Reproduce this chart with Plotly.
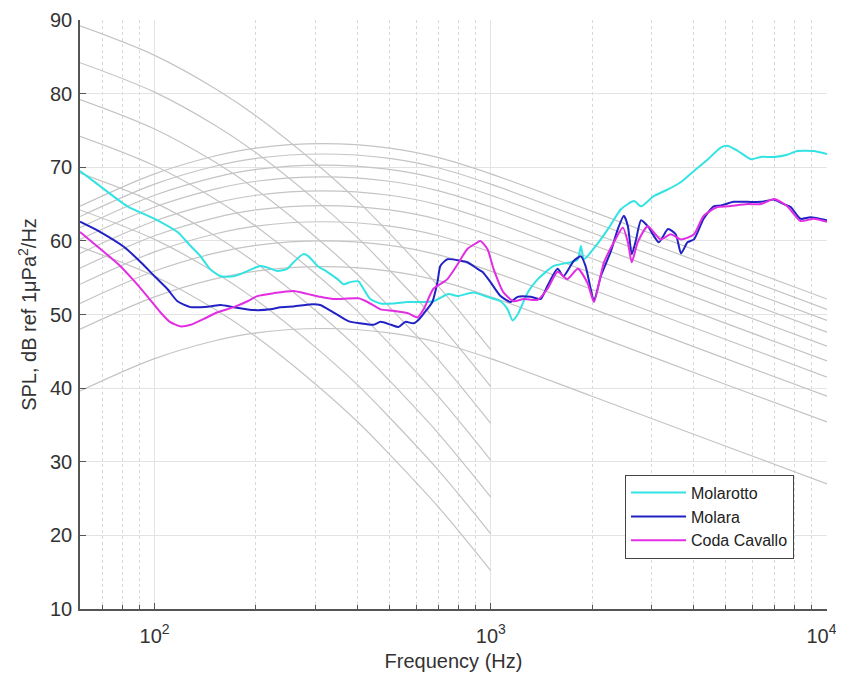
import plotly.graph_objects as go

molarotto_f = [60, 69, 83, 100, 117, 128, 137, 146, 157, 172, 189, 206, 216, 232, 248, 259, 277, 287,
               305, 326, 350, 365, 382, 404, 418, 438, 470, 513, 565, 618, 675, 748, 796, 888, 977,
               1069, 1122, 1161, 1202, 1288, 1380, 1540, 1730, 1815, 1854, 1893, 2027, 2231, 2439,
               2667, 2798, 3058, 3365, 3681, 4022, 4428, 4841, 5079, 5437, 5945, 6365, 6962, 7619,
               8166, 9120, 10000]
molarotto_db = [69.5, 67.4, 64.7, 63.0, 61.2, 59.3, 57.9, 56.2, 55.2, 55.2, 55.9, 56.6, 56.4, 55.9, 56.2,
                57.1, 58.2, 57.9, 56.6, 55.8, 54.8, 54.1, 54.4, 54.5, 53.5, 52.1, 51.5, 51.5, 51.7, 51.7,
                51.8, 52.8, 52.5, 53.0, 52.4, 51.8, 50.7, 49.2, 50.0, 53.0, 54.8, 56.6, 57.1, 57.5, 59.3,
                57.5, 59.0, 61.6, 64.3, 65.4, 64.7, 66.1, 67.0, 68.0, 69.5, 71.1, 72.7, 72.9, 72.2, 71.1,
                71.4, 71.4, 71.7, 72.2, 72.2, 71.8]

molara_f = [60, 69, 81, 91, 100, 109, 117, 128, 146, 157, 172, 197, 221, 237, 259, 296, 311, 340, 377,
            409, 448, 470, 505, 531, 557, 589, 610, 631, 670, 694, 708, 743, 813, 852, 913, 944, 998,
            1069, 1145, 1202, 1313, 1406, 1475, 1580, 1645, 1766, 1854, 1913, 1982, 2027, 2124, 2276,
            2387, 2488, 2557, 2626, 2699, 2798, 2930, 3162, 3365, 3548, 3681, 3846, 4022, 4295, 4601,
            4841, 5277, 5802, 6365, 6962, 7431, 7798, 8337, 8933, 10000]
molara_db = [62.6, 61.2, 59.2, 57.1, 55.2, 53.5, 51.8, 51.0, 51.1, 51.3, 51.0, 50.6, 50.7, 51.0, 51.1,
             51.4, 51.3, 50.3, 49.1, 48.8, 48.6, 49.0, 48.6, 48.3, 49.0, 48.8, 49.3, 50.1, 51.7, 54.4,
             56.6, 57.5, 57.3, 57.1, 56.2, 55.8, 54.4, 52.5, 51.7, 52.4, 52.4, 52.1, 53.9, 56.2, 55.2,
             57.3, 57.9, 56.6, 53.5, 51.8, 55.2, 58.6, 61.6, 63.4, 62.0, 58.2, 60.0, 62.8, 62.0, 59.8,
             61.6, 60.9, 58.3, 59.8, 60.2, 63.0, 64.7, 64.8, 65.3, 65.3, 65.3, 65.6, 65.0, 64.6, 63.0,
             63.2, 62.8]

coda_f = [60, 69, 79, 86, 95, 104, 111, 119, 128, 140, 154, 172, 189, 202, 226, 259, 285, 311, 340, 404,
          430, 470, 513, 565, 605, 631, 675, 723, 743, 796, 852, 913, 930, 977, 1019, 1091, 1169, 1253,
          1380, 1475, 1580, 1690, 1815, 1942, 2027, 2168, 2323, 2471, 2557, 2626, 2735, 2930, 3199, 3428,
          3681, 4022, 4295, 4720, 5079, 5802, 6365, 6962, 7619, 8337, 9120, 10000]
coda_db = [61.2, 58.9, 56.6, 54.8, 52.5, 50.3, 49.0, 48.4, 48.6, 49.4, 50.3, 51.0, 51.8, 52.5, 52.9, 53.2,
           52.8, 52.4, 52.1, 52.2, 51.7, 50.7, 50.5, 50.2, 49.6, 50.7, 53.5, 54.4, 54.8, 56.8, 58.9, 59.8,
           60.0, 58.9, 56.2, 53.0, 51.8, 52.1, 52.0, 53.5, 55.8, 54.8, 56.2, 54.2, 51.7, 57.0, 59.8, 61.8,
           59.8, 57.1, 59.8, 62.0, 60.2, 60.9, 60.2, 60.9, 63.4, 64.6, 64.7, 65.0, 65.0, 65.7, 64.7, 62.7,
           63.0, 62.6]

# ---------------- Grey reference curves ----------------
arch_f = [60, 100, 150, 200, 316, 500, 700, 1000, 2000, 5000, 10000]
arch_db = [
    [64.7, 69.1, 71.5, 72.6, 73.2, 72.6, 71.3, 69.1, 64.0, 57.2, 52.1],
    [63.3, 67.7, 70.1, 71.2, 71.8, 71.2, 69.9, 67.7, 62.6, 55.8, 50.7],
    [61.8, 66.2, 68.6, 69.7, 70.3, 69.7, 68.4, 66.2, 61.1, 54.3, 49.2],
    [60.2, 64.6, 67.0, 68.1, 68.7, 68.1, 66.8, 64.6, 59.5, 52.7, 47.6],
    [58.3, 62.7, 65.1, 66.2, 66.8, 66.2, 64.9, 62.7, 57.6, 50.8, 45.7],
    [56.3, 60.7, 63.1, 64.2, 64.8, 64.2, 62.9, 60.7, 55.6, 48.8, 43.7],
    [54.1, 58.5, 60.9, 62.0, 62.6, 62.0, 60.7, 58.5, 53.4, 46.6, 41.5],
    [51.5, 55.9, 58.3, 59.4, 60.0, 59.4, 58.1, 55.9, 50.8, 44.0, 38.9],
    [48.0, 52.4, 54.8, 55.9, 56.5, 55.9, 54.6, 52.4, 47.3, 40.5, 35.4],
    [39.6, 44.0, 46.4, 47.5, 48.1, 47.5, 46.2, 44.0, 38.9, 32.1, 27.0],
]

steep_f = [60, 100, 150, 200, 300, 400, 500, 700, 1000]
steep_db = [
    [89.2, 85.2, 80.8, 77.0, 70.6, 65.5, 61.0, 53.8, 45.2],
    [84.2, 80.2, 75.8, 72.0, 65.6, 60.5, 56.0, 48.8, 40.2],
    [79.2, 75.2, 70.8, 67.0, 60.6, 55.5, 51.0, 43.8, 35.2],
    [74.2, 70.2, 65.8, 62.0, 55.6, 50.5, 46.0, 38.8, 30.2],
    [69.2, 65.2, 60.8, 57.0, 50.6, 45.5, 41.0, 33.8, 25.2],
    [64.2, 60.2, 55.8, 52.0, 45.6, 40.5, 36.0, 28.8, 20.2],
    [59.2, 55.2, 50.8, 47.0, 40.6, 35.5, 31.0, 23.8, 15.2],
]

x_tick_vals = [100, 1000, 10000]
x_tick_text = ["10<sup>2</sup>", "10<sup>3</sup>", "10<sup>4</sup>\u00a0\u00a0"]
x_minor_vals = [60, 70, 80, 90, 200, 300, 400, 500, 600, 700, 800, 900,
                2000, 3000, 4000, 5000, 6000, 7000, 8000, 9000]
y_tick_vals = [10, 20, 30, 40, 50, 60, 70, 80, 90]

GREY = "#c4c4c4"
FONT = "Liberation Sans, Arial, Helvetica, sans-serif"
TXT = "#333333"

fig = go.Figure()

for ys in arch_db:
    fig.add_trace(go.Scatter(x=arch_f, y=ys, mode="lines", showlegend=False, hoverinfo="skip",
                             line=dict(color=GREY, width=1.2, shape="spline", smoothing=1.0)))
for ys in steep_db:
    fig.add_trace(go.Scatter(x=steep_f, y=ys, mode="lines", showlegend=False, hoverinfo="skip",
                             line=dict(color=GREY, width=1.2, shape="spline", smoothing=1.0)))

fig.add_trace(go.Scatter(x=molarotto_f, y=molarotto_db, mode="lines", name="Molarotto",
                         line=dict(color="#33E3E3", width=2, shape="spline", smoothing=0.6)))
fig.add_trace(go.Scatter(x=molara_f, y=molara_db, mode="lines", name="Molara",
                         line=dict(color="#2222C4", width=2, shape="spline", smoothing=0.6)))
fig.add_trace(go.Scatter(x=coda_f, y=coda_db, mode="lines", name="Coda Cavallo",
                         line=dict(color="#E22EE2", width=2, shape="spline", smoothing=0.6)))

fig.update_layout(
    width=844, height=664,
    margin=dict(l=72, r=25, t=12, b=63, autoexpand=False),
    paper_bgcolor="white", plot_bgcolor="white",
    font=dict(family=FONT, size=20, color=TXT),
    legend=dict(x=0.7296, y=0.228, xanchor="left", yanchor="top",
                bgcolor="white", bordercolor="#444444", borderwidth=1,
                font=dict(size=16, color="#222222"), itemwidth=55, tracegroupgap=0),
    xaxis=dict(type="log", range=[1.77815, 4.0], automargin=False,
               tickmode="array", tickvals=x_tick_vals, ticktext=x_tick_text,
               ticks="inside", ticklen=6, tickcolor="#555555", tickwidth=1.2,
               showline=True, linecolor="#555555", linewidth=1.6, mirror=False,
               showgrid=True, gridcolor="#e3e3e3", gridwidth=1, ticklabelstandoff=8,
               minor=dict(tickmode="array", tickvals=x_minor_vals, ticks="inside", ticklen=4,
                          tickcolor="#555555", showgrid=True, gridcolor="#d8d8d8",
                          griddash="dot", gridwidth=1),
               title=dict(text="Frequency (Hz)", font=dict(size=20, color=TXT), standoff=12),
               tickfont=dict(size=20, color=TXT), zeroline=False),
    yaxis=dict(range=[10, 90], tickmode="array", tickvals=y_tick_vals, automargin=False,
               ticks="inside", ticklen=6, tickcolor="#555555", tickwidth=1.2,
               showline=True, linecolor="#555555", linewidth=1.6, mirror=False,
               showgrid=True, gridcolor="#e3e3e3", gridwidth=1, ticklabelstandoff=2,
               title=dict(text="SPL, dB ref 1μPa<sup>2</sup>/Hz", font=dict(size=20, color=TXT),
                          standoff=8),
               tickfont=dict(size=20, color=TXT), zeroline=False),
)

fig.write_html("out.html")
